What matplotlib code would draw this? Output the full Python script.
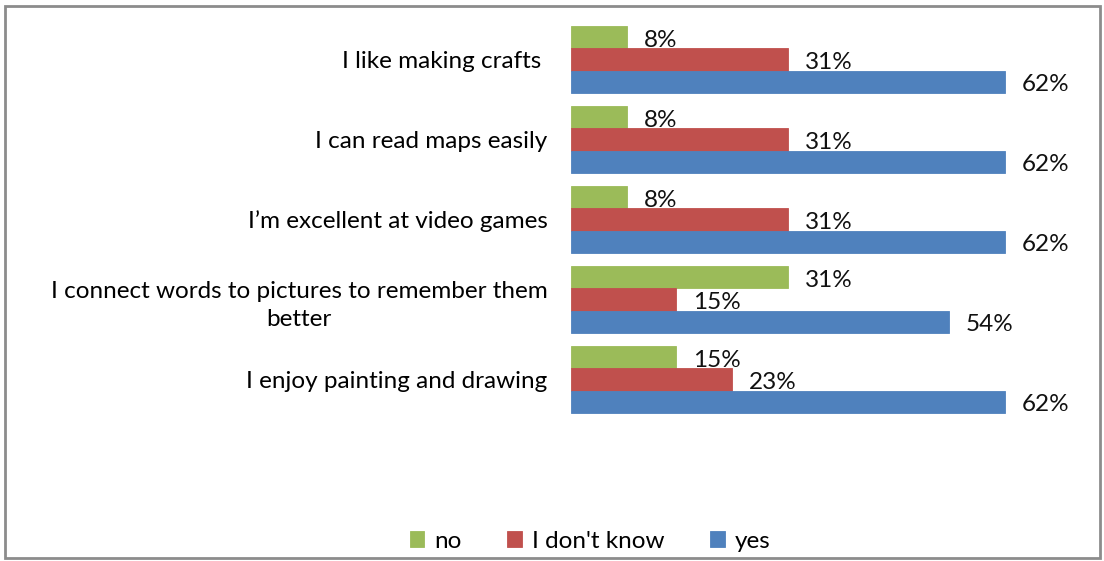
import numpy as np
import matplotlib.pyplot as plt
from matplotlib.patches import Rectangle

# Survey statements (top to bottom) and answer shares in percent
statements = [
    'I like making crafts ',
    'I can read maps easily',
    'I\u2019m excellent at video games',
    'I connect words to pictures to remember them\nbetter',
    'I enjoy painting and drawing',
]
no_vals = [8, 8, 8, 31, 15]
dont_know_vals = [31, 31, 31, 15, 23]
yes_vals = [62, 62, 62, 54, 62]

series = [('no', no_vals, '#9BBB59'),
          ('I don\'t know', dont_know_vals, '#C0504D'),
          ('yes', yes_vals, '#4F81BD')]

plt.rcParams['font.family'] = ['Lato', 'DejaVu Sans']
FS = 17.5

W, H = 1104, 561
fig = plt.figure(figsize=(W / 100, H / 100), dpi=100)

# axes placed in pixel terms
ax_left, ax_right = 571, 1100
ax_top, ax_bot = 20, 420
ax = fig.add_axes([ax_left / W, 1 - ax_bot / H, (ax_right - ax_left) / W, (ax_bot - ax_top) / H])

y = np.arange(len(statements))
bh = 0.28
offsets = [-bh, 0, bh]

for (name, vals, col), off in zip(series, offsets):
    bars = ax.barh(y + off, vals, height=bh, color=col, edgecolor=col, linewidth=0.6, label=name)
    for b, v in zip(bars, vals):
        ax.annotate(f'{v}%', (b.get_width(), b.get_y() + b.get_height() / 2),
                    xytext=(17, -3), textcoords='offset pixels',
                    ha='left', va='center', fontsize=FS, color='#111111')

ax.set_xlim(0, (ax_right - ax_left) / 7.0)
ax.set_ylim(4.506, -0.494)
ax.set_yticks(y)
ax.set_yticklabels(statements, fontsize=FS, multialignment='center')
for t in ax.get_yticklabels():
    t.set_linespacing(1.45)
ax.tick_params(axis='y', length=0, pad=17)
ax.set_xticks([])
for s in ax.spines.values():
    s.set_visible(False)

handles, labels = ax.get_legend_handles_labels()
fig.legend(handles, labels, loc='center', bbox_to_anchor=(590 / W, 1 - 541 / H), ncol=3,
           frameon=False, fontsize=FS, handlelength=0.6, handleheight=0.6,
           handletextpad=0.4, columnspacing=1.9)

fig.patches.append(Rectangle((5 / W, 1 - 558 / H), 1095 / W, 552 / H, transform=fig.transFigure,
                             fill=False, edgecolor='#8c8c8c', linewidth=2))

fig.savefig('out.png', dpi=100)
